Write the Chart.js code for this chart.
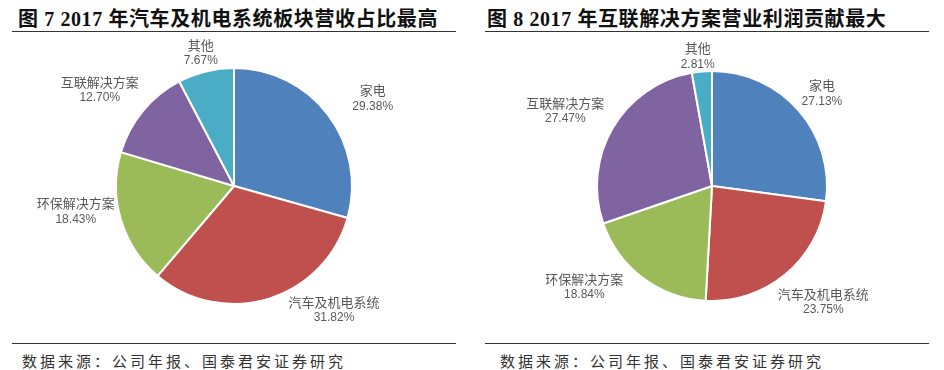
<!DOCTYPE html>
<html>
<head>
<meta charset="utf-8">
<script src="https://cdn.jsdelivr.net/npm/chart.js@4/dist/chart.umd.min.js"></script>
<style>
    html, body { margin: 0; padding: 0; background: #fff; }
    body { width: 944px; height: 370px; position: relative; overflow: hidden; }
    .panel { position: absolute; top: 0; width: 472px; height: 370px; }
    .title {
        position: absolute; top: 3px; left: 6px;
        font: bold 20px 'Liberation Serif', 'Noto Sans CJK SC', serif;
        color: #111; letter-spacing: 0.6px; white-space: nowrap;
    }
    .rule { position: absolute; left: 0; width: 444px; height: 0; border-top: 1.5px solid #333; }
    .source {
        position: absolute; top: 350px; left: 10px;
        font: 15px 'Noto Sans CJK SC', sans-serif; color: #333;
        letter-spacing: 3px; white-space: nowrap;
    }
    canvas { position: absolute; }
</style>
</head>
<body>
<div class="panel" style="left:12px">
    <div class="title">图 7 2017 年汽车及机电系统板块营收占比最高</div>
    <div class="rule" style="top:31px"></div>
    <div class="rule" style="top:343px"></div>
    <div class="source">数据来源：公司年报、国泰君安证券研究</div>
</div>
<div class="panel" style="left:485px">
    <div class="title" style="left:2px">图 8 2017 年互联解决方案营业利润贡献最大</div>
    <div class="rule" style="top:31px"></div>
    <div class="rule" style="top:343px"></div>
    <div class="source" style="left:15px">数据来源：公司年报、国泰君安证券研究</div>
</div>
<canvas id="revenueChart" width="444" height="304" style="left:12px; top:34px"></canvas>
<canvas id="profitChart" width="444" height="304" style="left:490px; top:34px"></canvas>

<script>
// 板块名称
const categories = ['家电', '汽车及机电系统', '环保解决方案', '互联解决方案', '其他'];
// 图7 营收占比 (%)
const revenueShare = [29.38, 31.82, 18.43, 12.70, 7.67];
// 图8 营业利润占比 (%)
const profitShare = [27.13, 23.75, 18.84, 27.47, 2.81];

const sliceColors = ['#4f81bd', '#c0504d', '#9bbb59', '#8064a2', '#4bacc6'];

// 标签微调（像素），模仿 Excel 的“最佳位置”
const revenueNudge = [[22, -2], [50, -12], [0, -15], [-7, -6], [1, 5]];
const profitNudge = [[2, -1], [4, 9], [-30, -10], [-7, -5], [-2, 9]];

// 标签画在扇区外侧，沿中线方向
const outsideLabels = {
    id: 'outsideLabels',
    afterDatasetsDraw(chart, args, opts) {
        const ctx = chart.ctx;
        const meta = chart.getDatasetMeta(0);
        const values = chart.data.datasets[0].data;
        const nudge = opts.nudge || [];
        ctx.save();
        ctx.textAlign = 'center';
        ctx.textBaseline = 'middle';
        meta.data.forEach((arc, i) => {
            const { x, y, outerRadius, startAngle, endAngle } = arc.getProps(['x', 'y', 'outerRadius', 'startAngle', 'endAngle'], true);
            const mid = (startAngle + endAngle) / 2;
            const ux = Math.cos(mid), uy = Math.sin(mid);
            const name = chart.data.labels[i];
            const pct = values[i].toFixed(2) + '%';

            ctx.font = "13px 'Noto Sans CJK SC'";
            const w1 = ctx.measureText(name).width;
            ctx.font = "12px 'Liberation Sans'";
            const w2 = ctx.measureText(pct).width;
            const w = Math.max(w1, w2), h = 32;

            const [dx, dy] = nudge[i] || [0, 0];
            const px = x + (outerRadius + 8) * ux;
            const py = y + (outerRadius + 8) * uy;
            const cx = px + ux * w / 2 + dx;
            const cy = py + uy * h / 2 + dy;

            ctx.fillStyle = '#595959';
            ctx.font = "13px 'Noto Sans CJK SC'";
            ctx.fillText(name, cx, cy - 8);
            ctx.font = "12px 'Liberation Sans'";
            ctx.fillText(pct, cx, cy + 8);
        });
        ctx.restore();
    }
};

function makePie(id, values, pad, nudge) {
    new Chart(document.getElementById(id), {
        type: 'pie',
        data: {
            labels: categories,
            datasets: [{
                data: values,
                backgroundColor: sliceColors,
                borderColor: '#ffffff',
                borderWidth: 2
            }]
        },
        options: {
            responsive: false,
            animation: false,
            layout: { padding: { top: pad, bottom: pad } },
            plugins: {
                legend: { display: false },
                tooltip: { enabled: false },
                outsideLabels: { nudge: nudge }
            }
        },
        plugins: [outsideLabels]
    });
}

makePie('revenueChart', revenueShare, 33, revenueNudge);
makePie('profitChart', profitShare, 36, profitNudge);
</script>
</body>
</html>
